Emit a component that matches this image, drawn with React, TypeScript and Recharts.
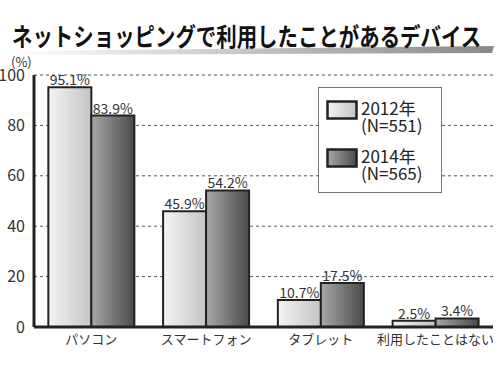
import { Bar, BarChart, CartesianGrid, LabelList, XAxis, YAxis } from 'recharts';

const categories = ['パソコン', 'スマートフォン', 'タブレット', '利用したことはない'];
const values2012 = [95.1, 45.9, 10.7, 2.5];
const values2014 = [83.9, 54.2, 17.5, 3.4];
const yTicks = [0, 20, 40, 60, 80, 100];
const seriesNames = ['2012年', '2014年'];
const seriesN = ['(N=551)', '(N=565)'];

const FONT = '"Noto Sans CJK JP", "Noto Sans", sans-serif';

const data = categories.map((name, i) => ({
  name,
  y2012: values2012[i],
  y2014: values2014[i],
}));

function LegendBox() {
  return (
    <div
      style={{
        position: 'absolute',
        left: 318,
        top: 87,
        border: '1px solid #777',
        background: '#fff',
        width: 124,
        height: 106,
        boxSizing: 'border-box',
        padding: '11px 0 0 7px',
        fontFamily: FONT,
        fontSize: 17,
        color: '#222',
        lineHeight: '17px',
      }}
    >
      {seriesNames.map((s, i) => (
        <div key={s} style={{ display: 'flex', marginBottom: i === 0 ? 14 : 0 }}>
          <svg width={35} height={22} style={{ marginTop: 1 }}>
            <defs>
              <linearGradient id={`lg${i}`} x1="0" y1="0" x2="1" y2="0">
                <stop offset="0%" stopColor={i === 0 ? '#f4f4f4' : '#a8a8a8'} />
                <stop offset="100%" stopColor={i === 0 ? '#c4c4c4' : '#4a4a4a'} />
              </linearGradient>
            </defs>
            <rect x={1.5} y={1.5} width={29} height={17} fill={`url(#lg${i})`} stroke="#222" strokeWidth={2.5} />
          </svg>
          <div>
            <div>{s}</div>
            <div>{seriesN[i]}</div>
          </div>
        </div>
      ))}
    </div>
  );
}

export default function App() {
  return (
    <div style={{ position: 'absolute', left: 0, top: 0, width: 500, height: 375, background: '#fff', overflow: 'hidden' }}>
      <svg width={500} height={62} style={{ position: 'absolute', left: 0, top: 0 }}>
        <defs>
          <linearGradient id="titleShade" x1="0" y1="0" x2="1" y2="0">
            <stop offset="0%" stopColor="#fff" />
            <stop offset="100%" stopColor="#888" />
          </linearGradient>
        </defs>
        <polygon points="12,51 494,46 492,53 12,55" fill="url(#titleShade)" />
      </svg>
      <div
        style={{
          position: 'absolute',
          left: 12,
          top: 20,
          fontFamily: FONT,
          fontWeight: 700,
          fontSize: 25,
          lineHeight: '30px',
          color: '#111',
          whiteSpace: 'nowrap',
          transform: 'scaleX(0.817)',
          transformOrigin: '0 0',
        }}
      >
        ネットショッピングで利用したことがあるデバイス
      </div>
      <BarChart
        width={500}
        height={375}
        data={data}
        margin={{ top: 75, right: 7, left: 0, bottom: 0 }}
        barCategoryGap="12.5%"
        barGap={0}
        style={{ fontFamily: FONT, position: 'absolute', left: 0, top: 0 }}
      >
        <defs>
          <linearGradient id="gLight" x1="0" y1="0" x2="1" y2="0">
            <stop offset="0%" stopColor="#f4f4f4" />
            <stop offset="100%" stopColor="#c4c4c4" />
          </linearGradient>
          <linearGradient id="gDark" x1="0" y1="0" x2="1" y2="0">
            <stop offset="0%" stopColor="#a8a8a8" />
            <stop offset="100%" stopColor="#4a4a4a" />
          </linearGradient>
        </defs>
        <CartesianGrid vertical={false} stroke="#555" strokeDasharray="3 3" />
        <XAxis
          dataKey="name"
          height={48}
          axisLine={{ stroke: '#222', strokeWidth: 3 }}
          tickLine={false}
          tick={{ fill: '#333', fontSize: 13 }}
          tickMargin={2}
          interval={0}
        />
        <XAxis xAxisId="top" dataKey="name" orientation="top" height={0} axisLine={{ stroke: '#222', strokeWidth: 3 }} tick={false} tickLine={false} />
        <YAxis
          width={34}
          domain={[0, 100]}
          ticks={yTicks}
          interval={0}
          axisLine={{ stroke: '#222', strokeWidth: 3 }}
          tickLine={false}
          tick={{ fill: '#333', fontSize: 16 }}
          tickMargin={3}
        />
        <YAxis yAxisId="right" orientation="right" width={0} domain={[0, 100]} axisLine={{ stroke: '#222', strokeWidth: 3 }} tick={false} tickLine={false} />
        <Bar dataKey="y2012" fill="url(#gLight)" stroke="#222" strokeWidth={2} isAnimationActive={false}>
          <LabelList dataKey="y2012" position="top" offset={2} formatter={(v: number) => `${v}%`} fill="#333" fontSize={14} />
        </Bar>
        <Bar dataKey="y2014" fill="url(#gDark)" stroke="#222" strokeWidth={2} isAnimationActive={false}>
          <LabelList dataKey="y2014" position="top" offset={2} formatter={(v: number) => `${v}%`} fill="#333" fontSize={14} />
        </Bar>
      </BarChart>
      <div style={{ position: 'absolute', left: 11, top: 55, fontFamily: FONT, fontSize: 13, lineHeight: '13px', color: '#333' }}>
        (%)
      </div>
      <LegendBox />
    </div>
  );
}
